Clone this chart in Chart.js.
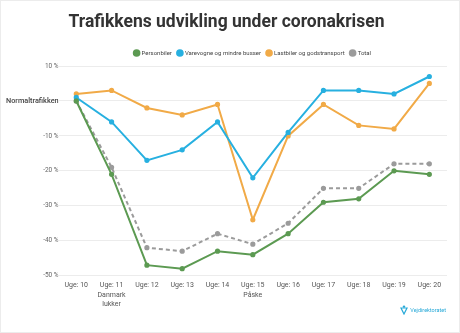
<!DOCTYPE html>
<html>
<head>
<meta charset="utf-8">
<script src="https://cdn.jsdelivr.net/npm/chart.js@4"></script>
<style>
  html, body { margin: 0; padding: 0; background: #fff; }
  #wrap { position: relative; width: 458px; height: 331px; border: 1px solid #ececec; }
  #logo { position: absolute; right: 13px; bottom: 17px; font: 5.5px Roboto, sans-serif; color: #27a9d8; display: flex; align-items: center; gap: 2px; }
</style>
</head>
<body>
<div id="wrap">
  <canvas id="chart" width="458" height="331"></canvas>
  <div id="logo">
    <svg width="8" height="10" viewBox="0 0 8 10"><path d="M1 3 L7 3 L4 9 Z" fill="none" stroke="#27a9d8" stroke-width="1.2"/><circle cx="4" cy="1.6" r="1.2" fill="#27a9d8"/></svg>
    <span>Vejdirektoratet</span>
  </div>
</div>
<script>
// =======================
// Data
// =======================
const weeks = [
  "Uge: 10", ["Uge: 11", "Danmark", "lukker"], "Uge: 12", "Uge: 13", "Uge: 14",
  ["Uge: 15", "Påske"], "Uge: 16", "Uge: 17", "Uge: 18", "Uge: 19", "Uge: 20"
];
const personbiler = [0, -21, -47, -48, -43, -44, -38, -29, -28, -20, -21];
const varevogne   = [1, -6, -17, -14, -6, -22, -9, 3, 3, 2, 7];
const lastbiler   = [2, 3, -2, -4, -1, -34, -10, -1, -7, -8, 5];
const total       = [0, -19, -42, -43, -38, -41, -35, -25, -25, -18, -18];

const font = "Roboto, 'Noto Sans', sans-serif";

function series(label, data, color, dash) {
  return {
    label: label,
    data: data,
    borderColor: color,
    backgroundColor: color,
    borderWidth: 2,
    borderDash: dash || [],
    pointRadius: 1.6,
    pointHoverRadius: 2,
    tension: 0
  };
}

// legend sits centred over the plot area, not the whole canvas
const centreLegend = {
  id: "centreLegend",
  afterLayout(chart) {
    const lg = chart.legend, ca = chart.chartArea;
    const shift = (ca.left + ca.right) / 2 - (lg.left + lg.right) / 2;
    lg.left += shift;
    lg.right += shift;
  }
};

// =======================
// Chart
// =======================
new Chart(document.getElementById("chart"), {
  type: "line",
  data: {
    labels: weeks,
    datasets: [
      series("Personbiler", personbiler, "#5c9a52"),
      series("Varevogne og mindre busser", varevogne, "#27b0e0"),
      series("Lastbiler og godstransport", lastbiler, "#f1aa47"),
      series("Total", total, "#9b9b9b", [4, 3])
    ]
  },
  plugins: [centreLegend],
  options: {
    responsive: false,
    animation: false,
    layout: { padding: { left: 5, right: 12, top: 5, bottom: 18 } },
    plugins: {
      title: {
        display: true,
        text: "Trafikkens udvikling under coronakrisen",
        color: "#333",
        font: { family: font, size: 17.5, weight: "bold" },
        padding: { top: 6, bottom: 11 }
      },
      legend: {
        position: "top",
        labels: {
          usePointStyle: true,
          pointStyle: "circle",
          boxWidth: 4,
          boxHeight: 4,
          padding: 6,
          color: "#444",
          font: { family: font, size: 6 }
        }
      },
      tooltip: { enabled: false }
    },
    scales: {
      x: {
        offset: true,
        grid: { display: false, drawTicks: false },
        border: { display: false },
        ticks: {
          color: "#555",
          font: { family: font, size: 7, lineHeight: 1.35 },
          maxRotation: 0,
          autoSkip: false,
          padding: 5
        }
      },
      y: {
        min: -50,
        max: 10,
        grid: { color: "#ececec", drawTicks: false },
        border: { display: false },
        ticks: {
          stepSize: 10,
          padding: 0,
          color: ctx => ctx.tick && ctx.tick.value === 0 ? "#444" : "#666",
          font: ctx => ctx.tick && ctx.tick.value === 0
            ? { family: font, size: 7.3, weight: "500" }
            : { family: font, size: 6.5 },
          callback: v => v === 0 ? "Normaltrafikken" : v + " %"
        }
      }
    }
  }
});
</script>
</body>
</html>
